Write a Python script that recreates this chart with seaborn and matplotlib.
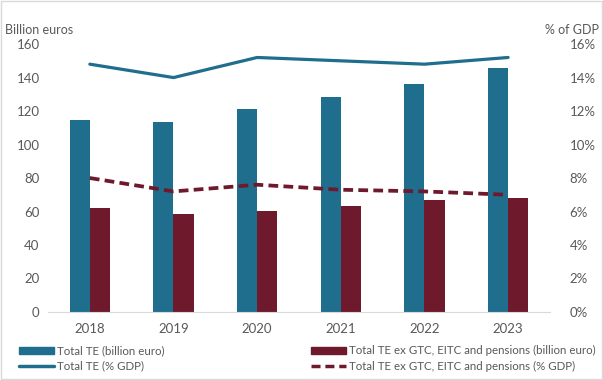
import pandas as pd
import matplotlib
matplotlib.use('Agg')
import matplotlib.pyplot as plt
import seaborn as sns
from matplotlib.ticker import PercentFormatter
from matplotlib.patches import Rectangle

years = ["2018", "2019", "2020", "2021", "2022", "2023"]
te_bn = [114.5, 113.5, 121.5, 128.5, 136, 146]
te_ex_bn = [62, 58.5, 60.5, 63, 66.8, 67.8]
te_pct = [14.8, 14.0, 15.2, 15.0, 14.8, 15.2]
te_ex_pct = [8.0, 7.2, 7.6, 7.3, 7.2, 7.0]

lab_bn = "Total TE (billion euro)"
lab_ex_bn = "Total TE ex GTC, EITC and pensions (billion euro)"
lab_pct = "Total TE (% GDP)"
lab_ex_pct = "Total TE ex GTC, EITC and pensions (% GDP)"

BLUE = "#206E8E"
RED = "#6E1A2C"
GREY = "#595959"
DASH = [2.6, 1.4]

sns.set_style("white")
plt.rcParams['font.family'] = ['Lato', 'DejaVu Sans']

bars = pd.DataFrame({
    "year": years * 2,
    "value": te_bn + te_ex_bn,
    "series": [lab_bn] * 6 + [lab_ex_bn] * 6,
})

fig = plt.figure(figsize=(6.03, 3.8), dpi=100)
ax = fig.add_axes([0.0796, 0.179, 0.8324, 0.705])
sns.barplot(data=bars, x="year", y="value", hue="series", palette=[BLUE, RED],
            width=0.48, gap=0, saturation=1, linewidth=0, ax=ax, legend=False)
ax.set_ylim(0, 160)
ax.set_yticks(range(0, 161, 20))
ax.set_xlabel("")
ax.set_ylabel("")

ax2 = ax.twinx()
sns.pointplot(x=years, y=te_pct, color=BLUE, markers="", linewidth=2.3, ax=ax2)
sns.pointplot(x=years, y=te_ex_pct, color=RED, markers="", linestyles="--",
              linewidth=2.7, ax=ax2)
for ln in ax2.lines:
    if ln.get_linestyle() == "--":
        ln.set_dashes(DASH)
ax2.set_ylim(0, 16)
ax2.set_yticks(range(0, 17, 2))
ax2.yaxis.set_major_formatter(PercentFormatter(decimals=0))

for a in (ax, ax2):
    for s in a.spines.values():
        s.set_visible(False)
    a.tick_params(length=0, labelsize=9.5, labelcolor=GREY, pad=6)
ax.spines["bottom"].set_visible(True)
ax.spines["bottom"].set_color("#D9D9D9")
ax.tick_params(axis="x", pad=8)
ax2.tick_params(axis="y", pad=14)

fig.text(0.008, 0.91, "Billion euros", fontsize=9, color=GREY)
fig.text(0.994, 0.91, "% of GDP", fontsize=9, color=GREY, ha="right")

handles = [Rectangle((0, 0), 1, 1, color=BLUE),
           plt.Line2D([], [], color=BLUE, lw=2.5),
           Rectangle((0, 0), 1, 1, color=RED),
           plt.Line2D([], [], color=RED, lw=2.5, dashes=DASH)]
fig.legend(handles, [lab_bn, lab_pct, lab_ex_bn, lab_ex_pct], ncol=2,
           loc="lower left", bbox_to_anchor=(0.015, -0.005), frameon=False,
           fontsize=8.3, labelcolor=GREY, handlelength=3.0, handleheight=0.6,
           handletextpad=0.3, columnspacing=12.7, labelspacing=0.35)

fig.add_artist(Rectangle((0.001, 0.002), 0.997, 0.995, transform=fig.transFigure,
                         fill=False, edgecolor="#D9D9D9", lw=1))

fig.savefig("out.png", dpi=100)
